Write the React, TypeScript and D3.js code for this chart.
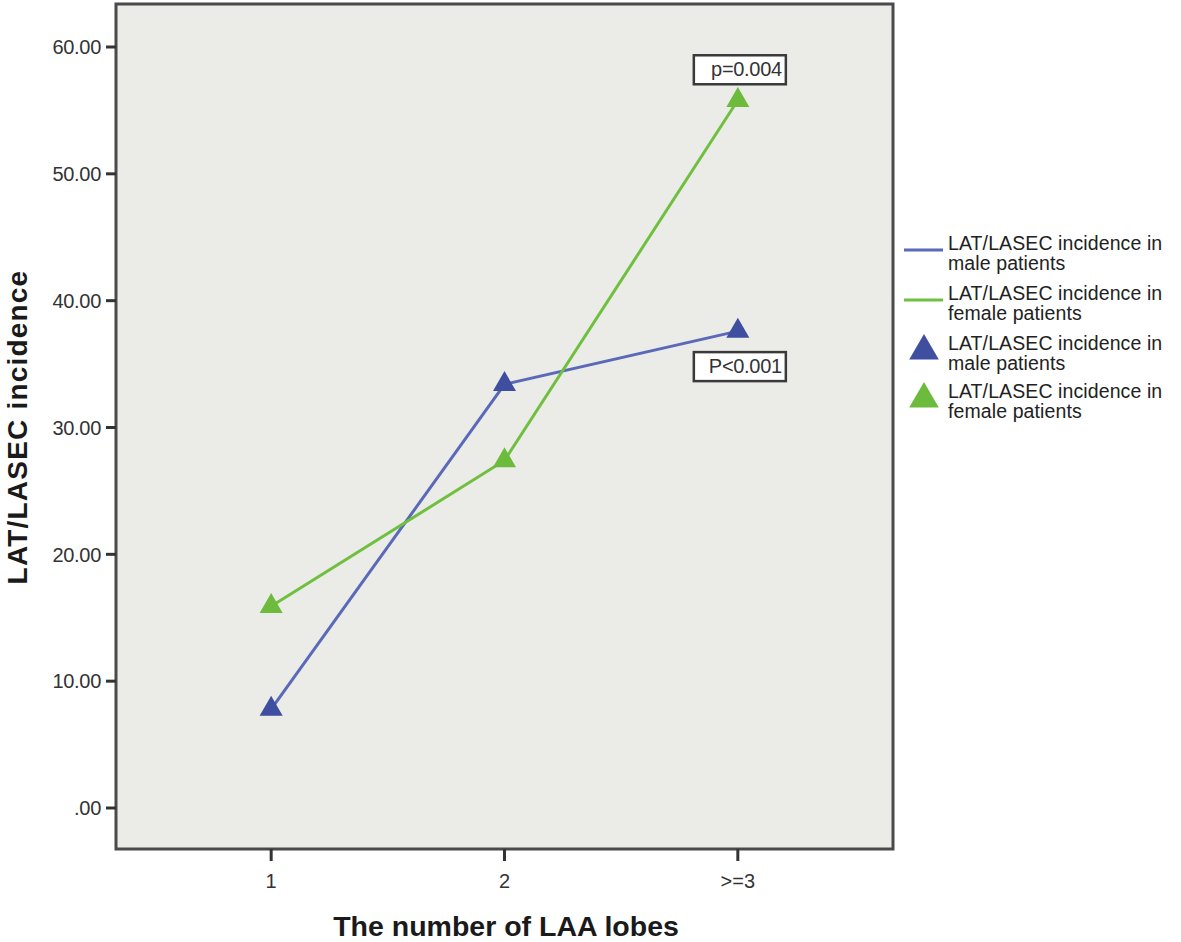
import * as React from 'react';
import { useEffect, useRef } from 'react';
import * as d3 from 'd3';

const categories = ['1', '2', '>=3'];
const maleValues = [7.8, 33.4, 37.6];
const femaleValues = [15.9, 27.4, 55.8];
const yTicks = [0, 10, 20, 30, 40, 50, 60];
const legendLabels = [
  ['LAT/LASEC incidence in', 'male patients'],
  ['LAT/LASEC incidence in', 'female patients'],
  ['LAT/LASEC incidence in', 'male patients'],
  ['LAT/LASEC incidence in', 'female patients'],
];
const annotations = [
  { text: 'p=0.004', series: 'female' },
  { text: 'P<0.001', series: 'male' },
];

const BLUE_LINE = '#5a69b8';
const BLUE_MARK = '#3f4e9e';
const GREEN_LINE = '#70c040';
const GREEN_MARK = '#6cbb3c';
const FONT = 'Liberation Sans, Arial, sans-serif';

export default function App() {
  const svgRef = useRef<SVGSVGElement>(null);

  useEffect(() => {
    if (!svgRef.current) return;
    const width = 1181;
    const height = 942;
    const plot = { left: 116, top: 4, right: 893, bottom: 849 };

    const svg = d3.select(svgRef.current);
    svg.selectAll('*').remove();

    const x = d3.scalePoint<string>()
      .domain(categories)
      .range([plot.left, plot.right])
      .padding(0.665);

    const y = d3.scaleLinear()
      .domain([0, 60])
      .range([808, 47]);

    // background
    svg.append('rect').attr('width', width).attr('height', height).attr('fill', '#ffffff');

    svg.append('rect')
      .attr('x', plot.left)
      .attr('y', plot.top)
      .attr('width', plot.right - plot.left)
      .attr('height', plot.bottom - plot.top)
      .attr('fill', '#ebebe8')
      .attr('stroke', '#4a4a4a')
      .attr('stroke-width', 3);

    // y axis ticks
    const yAxis = svg.append('g');
    yTicks.forEach(t => {
      yAxis.append('line')
        .attr('x1', plot.left - 10).attr('x2', plot.left)
        .attr('y1', y(t)).attr('y2', y(t))
        .attr('stroke', '#333').attr('stroke-width', 3);
      yAxis.append('text')
        .attr('x', plot.left - 15)
        .attr('y', y(t))
        .attr('dy', '0.36em')
        .attr('text-anchor', 'end')
        .attr('font-family', FONT)
        .attr('font-size', 20)
        .attr('letter-spacing', -0.3)
        .attr('fill', '#333')
        .text(t === 0 ? '.00' : d3.format('.2f')(t));
    });

    // x axis ticks
    const xAxis = svg.append('g');
    categories.forEach(c => {
      const cx = x(c) as number;
      xAxis.append('line')
        .attr('x1', cx).attr('x2', cx)
        .attr('y1', plot.bottom).attr('y2', plot.bottom + 12)
        .attr('stroke', '#333').attr('stroke-width', 3);
      xAxis.append('text')
        .attr('x', cx)
        .attr('y', 881)
        .attr('dy', '0.36em')
        .attr('text-anchor', 'middle')
        .attr('font-family', FONT)
        .attr('font-size', 20)
        .attr('fill', '#333')
        .text(c);
    });

    // axis titles
    svg.append('text')
      .attr('x', 506)
      .attr('y', 936)
      .attr('text-anchor', 'middle')
      .attr('font-family', FONT)
      .attr('font-weight', 'bold')
      .attr('font-size', 28.5)
      .attr('fill', '#1a1a1a')
      .text('The number of LAA lobes');

    svg.append('text')
      .attr('transform', `translate(27,427) rotate(-90)`)
      .attr('text-anchor', 'middle')
      .attr('font-family', FONT)
      .attr('font-weight', 'bold')
      .attr('font-size', 28)
      .attr('letter-spacing', 1.2)
      .attr('fill', '#1a1a1a')
      .text('LAT/LASEC incidence');

    const line = d3.line<number>()
      .x((_, i) => x(categories[i]) as number)
      .y(d => y(d));

    const series = [
      { values: maleValues, line: BLUE_LINE, mark: BLUE_MARK },
      { values: femaleValues, line: GREEN_LINE, mark: GREEN_MARK },
    ];

    series.forEach(s => {
      svg.append('path')
        .datum(s.values)
        .attr('fill', 'none')
        .attr('stroke', s.line)
        .attr('stroke-width', 3)
        .attr('d', line);
    });

    const tri = d3.symbol().type(d3.symbolTriangle).size(230);
    series.forEach(s => {
      svg.append('g')
        .selectAll('path')
        .data(s.values)
        .enter().append('path')
        .attr('d', tri)
        .attr('transform', (d, i) => `translate(${x(categories[i])},${y(d)})`)
        .attr('fill', s.mark);
    });

    // p-value annotations
    annotations.forEach(a => {
      const vals = a.series === 'male' ? maleValues : femaleValues;
      const last = categories.length - 1;
      const cx = (x(categories[last]) as number) + 2;
      const cy = a.series === 'male' ? y(vals[last]) + 35 : y(vals[last]) - 31;
      const g = svg.append('g');
      g.append('rect')
        .attr('x', cx - 46).attr('y', cy - 14)
        .attr('width', 92).attr('height', 29)
        .attr('fill', '#ffffff')
        .attr('stroke', '#3a3a3a')
        .attr('stroke-width', 2.5);
      g.append('text')
        .attr('x', cx + 42)
        .attr('y', cy)
        .attr('dy', '0.36em')
        .attr('text-anchor', 'end')
        .attr('font-family', FONT)
        .attr('font-size', 20)
        .attr('letter-spacing', -0.3)
        .attr('fill', '#333')
        .text(a.text);
    });

    // legend
    const legend = svg.append('g');
    const legendTri = d3.symbol().type(d3.symbolTriangle).size(380);
    const rowY = [250, 300, 350, 398];
    legendLabels.forEach((lbl, i) => {
      const ly = rowY[i];
      if (i < 2) {
        legend.append('line')
          .attr('x1', 904).attr('x2', 943)
          .attr('y1', ly).attr('y2', ly)
          .attr('stroke', i === 0 ? BLUE_LINE : GREEN_LINE)
          .attr('stroke-width', 3);
      } else {
        legend.append('path')
          .attr('d', legendTri)
          .attr('transform', `translate(924,${ly + 1})`)
          .attr('fill', i === 2 ? BLUE_MARK : GREEN_MARK);
      }
      lbl.forEach((t, j) => {
        legend.append('text')
          .attr('x', 948)
          .attr('y', ly - 7 + j * 20)
          .attr('dy', '0.36em')
          .attr('font-family', FONT)
          .attr('font-size', 19.5)
          .attr('letter-spacing', 0.1)
          .attr('fill', '#222')
          .text(t);
      });
    });
  }, []);

  return (
    <div style={{ position: 'absolute', left: 0, top: 0, width: 1181, height: 942 }}>
      <svg ref={svgRef} width={1181} height={942}></svg>
    </div>
  );
}
